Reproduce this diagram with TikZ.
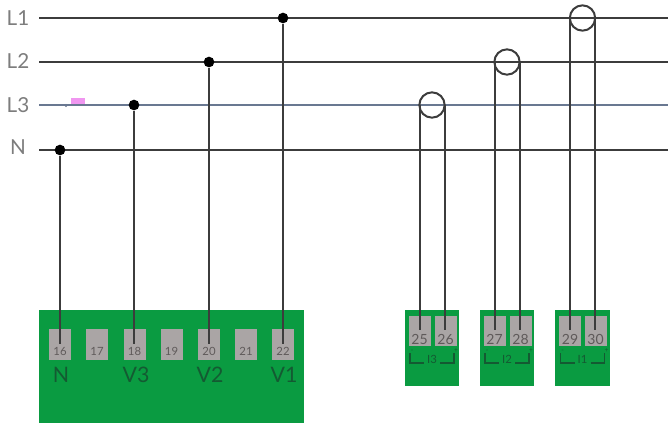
\documentclass[tikz,border=0pt]{standalone}
\usepackage{fontspec}
\setmainfont{Lato}
\definecolor{busgreen}{RGB}{10,155,65}
\definecolor{termgrey}{RGB}{170,165,165}
\definecolor{wire}{RGB}{60,60,60}
\definecolor{bluewire}{RGB}{105,120,145}
\definecolor{labelgrey}{RGB}{125,125,125}
\definecolor{numgrey}{RGB}{95,90,90}
\definecolor{greenink}{RGB}{20,90,50}
\definecolor{pinkmark}{RGB}{240,150,240}
\tikzset{
  x=0.75pt,y=-0.75pt,
  bus/.style={draw=wire,line width=1.5pt},
  bluebus/.style={draw=bluewire,line width=1.5pt},
  lead/.style={draw=wire,line width=1.5pt},
  thin lead/.style={draw=wire,line width=1.5pt},
  phase/.style={text=labelgrey,font=\fontsize{15.5}{16}\selectfont,inner sep=0pt},
  term/.style={fill=termgrey,draw=none,minimum width=16.5pt,minimum height=23pt,inner sep=0pt},
  termnum/.style={font=\fontsize{8.5}{9}\selectfont,text=numgrey,inner sep=0pt},
  ctnum/.style={font=\fontsize{10.5}{11}\selectfont,text=numgrey,inner sep=0pt},
  vlabel/.style={text=greenink,font=\fontsize{16}{16}\selectfont,inner sep=0pt},
  ctlabel/.style={text=greenink,font=\fontsize{8.5}{9}\selectfont,inner sep=0pt},
  sign/.style={text=greenink,font=\fontsize{5}{5}\selectfont,inner sep=0pt},
  bracket/.style={draw=greenink,line width=0.9pt},
  dot/.style={circle,fill=black,inner sep=0pt,minimum size=8pt},
  ring/.style={circle,draw=wire,line width=1.5pt,fill=none,inner sep=0pt,minimum size=19pt},
}
\begin{document}
\begin{tikzpicture}
\useasboundingbox (0,0) rectangle (668,426);
% phase labels and line ends
\node[phase] (lL1) at (18,18) {L1};
\node[phase] (lL2) at (18,61) {L2};
\node[phase] (lL3) at (18,105) {L3};
\node[phase] (lN) at (18,147) {N};
\coordinate (L1a) at (39,18); \coordinate (L1b) at (668,18);
\coordinate (L2a) at (39,62); \coordinate (L2b) at (668,62);
\coordinate (L3a) at (39,105); \coordinate (L3b) at (668,105);
\coordinate (Na) at (39,150); \coordinate (Nb) at (668,150);
% green blocks
\fill[busgreen] (39,310) rectangle (304,423);
\fill[busgreen] (405,310) rectangle (459,386);
\fill[busgreen] (480,310) rectangle (534,386);
\fill[busgreen] (555,310) rectangle (610,386);
% terminals
\foreach \n/\x in {16/60,17/97,18/134.5,19/171.5,20/209,21/246,22/283}{
  \node[term] (t\n) at (\x,344.5) {};
  \node[termnum] at (\x,351.5) {\n};
}
\foreach \n/\x in {25/419.5,26/445.5,27/494.5,28/520.5,29/570,30/595.5}{
  \node[term,minimum height=22.5pt] (t\n) at (\x,331) {};
  \node[ctnum] at (\x,339) {\n};
}
% terminal-block captions
\node[vlabel] at (61,375) {N};
\node[vlabel] at (136,375) {V3};
\node[vlabel] at (210,375) {V2};
\node[vlabel] at (284,375) {V1};
\foreach \x/\t in {432/I3,507/I2,582.5/I1}{
  \draw[bracket] (\x-22,353) -- (\x-22,363) -- (\x-8,363);
  \draw[bracket] (\x+8,363) -- (\x+22,363) -- (\x+22,353);
  \node[ctlabel] at (\x,359.5) {\t};
  \node[sign] at (\x-20,351.5) {-};
  \node[sign] at (\x+24,350.5) {+};
}
% buses
\draw[bus] (L1a) -- (L1b);
\draw[bus] (L2a) -- (L2b);
\draw[bluebus] (L3a) -- (L3b);
\draw[bus] (Na) -- (Nb);
% pink mark
\fill[pinkmark] (71,98) rectangle (85,104);
\fill[bluewire] (66,105.5) circle (1.6);
% junctions
\node[dot] (d16) at (60,150) {};
\node[dot] (d18) at (134,105) {};
\node[dot] (d20) at (209,62) {};
\node[dot] (d22) at (283,18) {};
\draw[lead] (d16) -- (60,344);
\draw[lead] (d18) -- (134,344);
\draw[lead] (d20) -- (209,344);
\draw[lead] (d22) -- (283,344);
% current transformers
\node[ring] (r3) at (432,105) {};
\node[ring] (r2) at (507,62) {};
\node[ring] (r1) at (582.5,18) {};
\draw[thin lead] (420,105) -- (420,330);
\draw[thin lead] (445,105) -- (445,330);
\draw[thin lead] (495,62) -- (495,330);
\draw[thin lead] (520,62) -- (520,330);
\draw[thin lead] (570,18) -- (570,330);
\draw[thin lead] (595,18) -- (595,330);
\end{tikzpicture}
\end{document}
